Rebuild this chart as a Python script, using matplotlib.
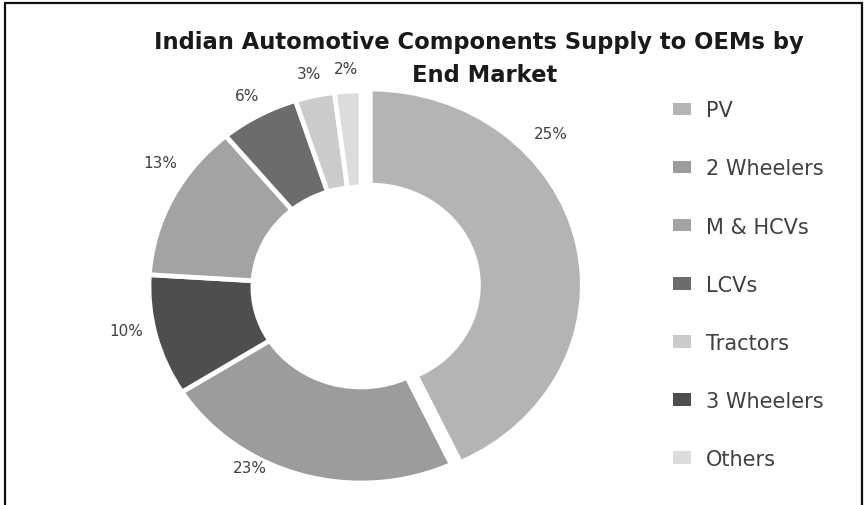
import numpy as np
import matplotlib
matplotlib.use("Agg")
import matplotlib.pyplot as plt
from matplotlib.patches import Patch, Rectangle

plt.rcParams['font.family'] = ['DejaVu Sans']

# ---- data (drawing order: clockwise from 12 o'clock) ----
segments = ["PV", "2 Wheelers", "3 Wheelers", "M & HCVs", "LCVs", "Tractors", "Others"]
shares = [43, 23, 10, 13, 6, 3, 2]
label_texts = ["25%", "23%", "10%", "13%", "6%", "3%", "2%"]

# legend order
legend_order = ["PV", "2 Wheelers", "M & HCVs", "LCVs", "Tractors", "3 Wheelers", "Others"]

title_line1 = "Indian Automotive Components Supply to OEMs by"
title_line2 = "End Market"

# ---- styles ----
colors = {
    "PV": "#b4b4b4",
    "2 Wheelers": "#9c9c9c",
    "M & HCVs": "#a3a3a3",
    "LCVs": "#6c6c6c",
    "Tractors": "#cbcbcb",
    "3 Wheelers": "#4e4e4e",
    "Others": "#dcdcdc",
}
explode = [0.045 if s == "PV" else 0.0 for s in segments]
label_angle_nudge = {"PV": -28.5, "2 Wheelers": 13.5, "M & HCVs": 7, "3 Wheelers": 3}
label_radius = {"PV": 1.19, "2 Wheelers": 1.06, "M & HCVs": 1.14, "3 Wheelers": 1.13}
default_label_radius = 1.115

W, H = 864, 506
fig = plt.figure(figsize=(W / 100, H / 100), dpi=100)

# pie centre (px), horizontal and vertical radius (px)
cx, cy, rx, ry = 361, 288, 212, 196
xl, yl = 1.35, 1.2
ax = fig.add_axes([(cx - xl * rx) / W, (H - cy - yl * ry) / H, 2 * xl * rx / W, 2 * yl * ry / H])

wedges, _ = ax.pie(
    shares,
    colors=[colors[s] for s in segments],
    startangle=90,
    counterclock=False,
    explode=explode,
    radius=1.0,
    wedgeprops=dict(width=0.49, edgecolor="white", linewidth=3.4),
)
ax.set_aspect("auto")
ax.set_xlim(-xl, xl)
ax.set_ylim(-yl, yl)
ax.axis("off")

# percentage labels
cum = np.cumsum([0] + shares[:-1])
total = float(sum(shares))
for seg, start, val, txt in zip(segments, cum, shares, label_texts):
    mid = (start + val / 2) / total * 360 + label_angle_nudge.get(seg, 0)
    r = label_radius.get(seg, default_label_radius)
    th = np.deg2rad(mid)
    ax.text(r * np.sin(th), r * np.cos(th), txt, ha="center", va="center",
            fontsize=11, color="#404040")

# title (two lines)
fig.text(479 / W, 1 - 43 / H, title_line1, ha="center", va="center", fontsize=16.3,
         fontweight="bold", color="#1a1a1a")
fig.text(485 / W, 1 - 75 / H, title_line2, ha="center", va="center", fontsize=16.3,
         fontweight="bold", color="#1a1a1a")

# legend
handles = [Patch(facecolor=colors[s], edgecolor="none") for s in legend_order]
fig.legend(handles, legend_order, loc="upper left", bbox_to_anchor=(665 / W, 1 - 93 / H),
           frameon=False, fontsize=15, labelcolor="#404040", handlelength=0.85,
           handleheight=0.55, handletextpad=0.7, labelspacing=1.83, borderaxespad=0)

# outer border (cropped chart frame)
fig.patches.append(Rectangle((5 / W, -0.05), (862 - 5) / W, 1.05 - 4 / H, transform=fig.transFigure,
                             fill=False, edgecolor="#111111", linewidth=1.6))

fig.savefig("out.png", dpi=100)
